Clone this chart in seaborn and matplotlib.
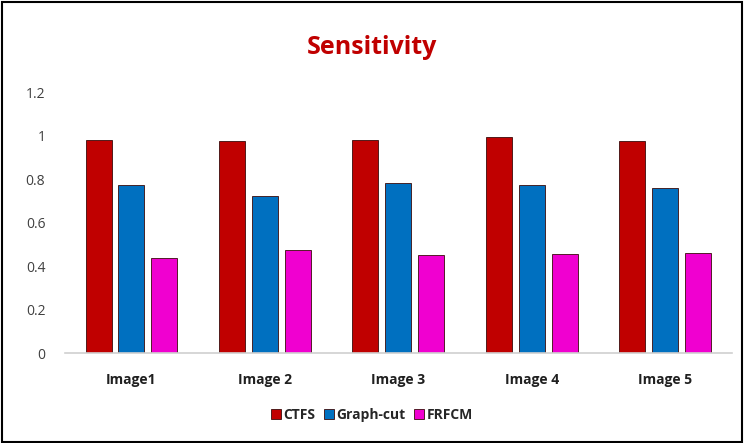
import matplotlib
matplotlib.use("Agg")
import matplotlib.pyplot as plt
import seaborn as sns
import pandas as pd
from matplotlib.patches import Rectangle

categories = ["Image1", "Image 2", "Image 3", "Image 4", "Image 5"]
series = ["CTFS", "Graph-cut", "FRFCM"]
ctfs = [0.979, 0.975, 0.980, 0.993, 0.977]
graph_cut = [0.772, 0.722, 0.782, 0.772, 0.759]
frfcm = [0.437, 0.474, 0.451, 0.455, 0.460]
yticks = [0, 0.2, 0.4, 0.6, 0.8, 1, 1.2]
ytick_labels = ["0", "0.2", "0.4", "0.6", "0.8", "1", "1.2"]

df = pd.DataFrame({
    "Image": categories * 3,
    "Method": [series[0]] * 5 + [series[1]] * 5 + [series[2]] * 5,
    "Value": ctfs + graph_cut + frfcm,
})

colors = ["#C00000", "#0070C0", "#F000D0"]

sns.set_theme(style="white")
plt.rcParams["font.family"] = ["Open Sans", "DejaVu Sans"]

fig = plt.figure(figsize=(7.44, 4.43), dpi=100)
ax = fig.add_axes([0.087, 0.203, 0.897, 0.589])

sns.barplot(data=df, x="Image", y="Value", hue="Method", palette=colors,
            width=0.74, gap=0.21, ax=ax, edgecolor="#3a0a0a", linewidth=0.6,
            saturation=1, legend=True)

ax.set_ylim(0, 1.2)
ax.set_xlim(-0.5, 4.5)
ax.set_yticks(yticks)
ax.set_yticklabels(ytick_labels, fontsize=10, color="#404040")
ax.set_xlabel("")
ax.set_ylabel("")
for lbl in ax.get_xticklabels():
    lbl.set_fontweight("bold")
    lbl.set_fontsize(10)
    lbl.set_color("#202020")
ax.tick_params(axis="y", length=0, pad=14)
ax.tick_params(axis="x", length=0, pad=14)
for s in ["top", "right", "left"]:
    ax.spines[s].set_visible(False)
ax.spines["bottom"].set_color("#d0d0d0")
ax.spines["bottom"].set_linewidth(1.2)

fig.text(0.5, 0.893, "Sensitivity", ha="center", va="center",
         fontsize=18, fontweight="bold", color="#C00000")

handles, labels = ax.get_legend_handles_labels()
ax.legend(handles, labels, loc="center", bbox_to_anchor=(0.5, 0.063),
          bbox_transform=fig.transFigure, ncol=3, frameon=False,
          prop={"weight": "bold", "size": 10}, handlelength=0.7,
          handleheight=0.7, handletextpad=0.2, columnspacing=0.6)

fig.patches.append(Rectangle((0.003, 0.003), 0.994, 0.993, transform=fig.transFigure,
                             fill=False, edgecolor="black", linewidth=1.5))

fig.savefig("out.png", dpi=100)
